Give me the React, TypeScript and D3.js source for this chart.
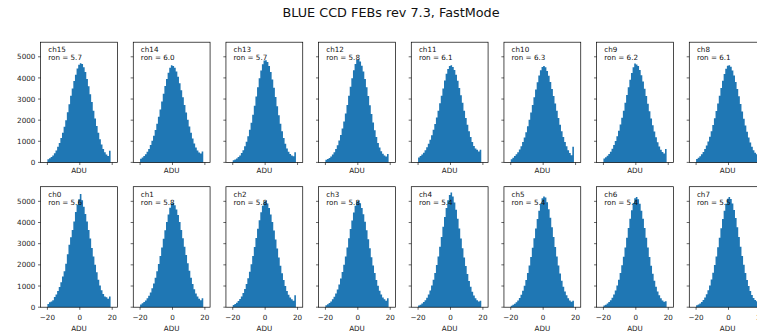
import React from "react";
import * as d3 from "d3";

const TITLE = "BLUE CCD FEBs rev 7.3, FastMode";
const BIN_START = -20; // left edge of the first bin, bins of width 1
const X_TICKS = [-20, 0, 20];
const Y_TICKS = [0, 1000, 2000, 3000, 4000, 5000];

const topChannels = ["ch15", "ch14", "ch13", "ch12", "ch11", "ch10", "ch9", "ch8"];
const topRon = ["5.7", "6.0", "5.7", "5.8", "6.1", "6.3", "6.2", "6.1"];
const bottomChannels = ["ch0", "ch1", "ch2", "ch3", "ch4", "ch5", "ch6", "ch7"];
const bottomRon = ["5.6", "5.8", "5.8", "5.8", "5.4", "5.4", "5.4", "5.5"];

const ch15 = [150, 200, 260, 330, 430, 560, 740, 920, 1150, 1400, 1690, 2000, 2380, 2750, 3150, 3500, 3850, 4150, 4450, 4620, 4700, 4660, 4500, 4280, 3950, 3600, 3230, 2860, 2450, 2080, 1720, 1400, 1100, 850, 640, 480, 370, 300, 550];
const ch14 = [170, 230, 300, 390, 500, 640, 820, 1020, 1260, 1530, 1830, 2160, 2500, 2880, 3250, 3620, 3950, 4250, 4480, 4600, 4570, 4480, 4300, 4050, 3750, 3420, 3080, 2720, 2360, 2020, 1700, 1400, 1130, 900, 700, 560, 470, 420, 520];
const ch13 = [100, 140, 190, 250, 330, 440, 580, 760, 980, 1240, 1540, 1880, 2260, 2680, 3120, 3560, 3980, 4350, 4650, 4820, 4840, 4750, 4560, 4280, 3930, 3530, 3100, 2660, 2230, 1830, 1470, 1150, 880, 660, 500, 400, 330, 290, 480];
const ch12 = [120, 160, 210, 280, 370, 480, 630, 810, 1040, 1300, 1600, 1940, 2320, 2720, 3150, 3580, 3990, 4360, 4660, 4850, 4870, 4780, 4580, 4300, 3950, 3560, 3140, 2710, 2290, 1890, 1520, 1200, 920, 700, 530, 410, 330, 280, 400];
const ch11 = [230, 300, 370, 460, 580, 720, 880, 1070, 1290, 1540, 1820, 2120, 2450, 2800, 3150, 3500, 3880, 4200, 4420, 4560, 4600, 4520, 4380, 4150, 3860, 3520, 3180, 2820, 2450, 2100, 1780, 1480, 1200, 960, 780, 660, 600, 520, 600];
const ch10 = [150, 220, 300, 380, 480, 610, 770, 960, 1180, 1430, 1710, 2020, 2360, 2720, 3080, 3450, 3800, 4110, 4360, 4520, 4560, 4500, 4330, 4100, 3810, 3480, 3140, 2790, 2440, 2100, 1780, 1480, 1200, 960, 760, 580, 440, 340, 740];
const ch9 = [180, 240, 310, 400, 510, 650, 820, 1010, 1240, 1500, 1790, 2110, 2450, 2820, 3190, 3560, 3910, 4230, 4500, 4680, 4640, 4560, 4380, 4130, 3830, 3490, 3140, 2780, 2420, 2080, 1760, 1460, 1190, 950, 750, 600, 490, 420, 630];
const ch8 = [160, 220, 290, 380, 490, 630, 800, 990, 1220, 1480, 1770, 2090, 2430, 2790, 3160, 3520, 3870, 4180, 4430, 4580, 4600, 4530, 4350, 4110, 3810, 3480, 3130, 2770, 2410, 2070, 1750, 1450, 1180, 940, 740, 580, 460, 380, 600];

const ch0 = [150, 230, 270, 330, 480, 600, 760, 950, 1180, 1450, 1700, 2050, 2500, 2950, 3300, 3650, 4050, 4500, 4850, 5100, 5350, 5050, 4750, 4400, 4050, 3650, 3250, 2800, 2400, 2000, 1650, 1300, 1020, 800, 620, 500, 470, 400, 500];
const ch1 = [130, 190, 250, 320, 420, 540, 700, 890, 1120, 1390, 1700, 2040, 2420, 2820, 3230, 3640, 4020, 4380, 4700, 4900, 4920, 4820, 4620, 4350, 4020, 3650, 3260, 2860, 2460, 2080, 1720, 1390, 1100, 850, 650, 500, 400, 330, 420];
const ch2 = [100, 150, 210, 290, 390, 510, 670, 860, 1090, 1370, 1680, 2030, 2420, 2840, 3270, 3700, 4110, 4480, 4790, 4980, 5010, 4900, 4680, 4380, 4020, 3620, 3200, 2770, 2350, 1960, 1600, 1280, 1000, 770, 590, 460, 370, 310, 560];
const ch3 = [90, 140, 200, 270, 370, 490, 650, 840, 1070, 1350, 1660, 2010, 2400, 2820, 3260, 3690, 4100, 4470, 4790, 4990, 5010, 4910, 4690, 4390, 4030, 3630, 3210, 2780, 2360, 1970, 1610, 1290, 1010, 780, 600, 460, 370, 300, 420];
const ch4 = [80, 120, 170, 240, 330, 450, 600, 790, 1020, 1300, 1620, 1990, 2400, 2850, 3320, 3800, 4260, 4680, 5050, 5300, 5420, 5230, 4950, 4600, 4180, 3720, 3250, 2790, 2350, 1940, 1570, 1240, 960, 730, 550, 420, 330, 270, 300];
const ch5 = [70, 110, 160, 230, 320, 440, 590, 780, 1010, 1290, 1610, 1970, 2370, 2810, 3260, 3720, 4160, 4560, 4900, 5150, 5230, 5180, 4960, 4630, 4230, 3780, 3310, 2840, 2390, 1970, 1590, 1250, 970, 740, 560, 420, 320, 260, 300];
const ch6 = [80, 120, 170, 240, 330, 450, 600, 790, 1020, 1300, 1620, 1980, 2380, 2820, 3280, 3740, 4180, 4580, 4920, 5150, 5210, 5100, 4880, 4560, 4180, 3740, 3280, 2820, 2370, 1960, 1580, 1250, 970, 740, 560, 420, 320, 260, 280];
const ch7 = [90, 130, 180, 250, 340, 460, 610, 800, 1030, 1310, 1630, 1990, 2390, 2830, 3280, 3730, 4160, 4550, 4880, 5120, 5200, 5110, 4900, 4590, 4210, 3780, 3320, 2860, 2420, 2000, 1620, 1290, 1000, 770, 580, 440, 340, 280, 300];

const topCounts = [ch15, ch14, ch13, ch12, ch11, ch10, ch9, ch8];
const bottomCounts = [ch0, ch1, ch2, ch3, ch4, ch5, ch6, ch7];

const W = 757;
const H = 334;
const FONT = "DejaVu Sans, sans-serif";
const BLUE = "#1f77b4";
const COL_LEFT = 40.6;
const COL_STEP = 92.67;
const AX_W = 76.8;
const ROWS = [
  { top: 42.2, bottom: 162.4 },
  { top: 186.7, bottom: 307.2 },
];
const X_DOMAIN: [number, number] = [-24.2, 23.2];

const allMax = d3.max([...topCounts, ...bottomCounts].flat()) as number;
const Y_MAX = allMax * 1.05;

function Panel({ col, row, name, ron, counts }: { col: number; row: number; name: string; ron: string; counts: number[] }) {
  const left = COL_LEFT + col * COL_STEP;
  const right = left + AX_W;
  const { top, bottom } = ROWS[row];
  const x = d3.scaleLinear().domain(X_DOMAIN).range([left, right]);
  const y = d3.scaleLinear().domain([0, Y_MAX]).range([bottom, top]);
  const showX = row === 1;
  const showY = col === 0;
  const steps: [number, number][] = counts.map((c, i) => [BIN_START + i, c]);
  steps.push([BIN_START + counts.length, counts[counts.length - 1]]);
  const area = d3
    .area<[number, number]>()
    .x((d) => x(d[0]))
    .y0(y(0))
    .y1((d) => y(d[1]))
    .curve(d3.curveStepAfter);
  return (
    <g>
      <path d={area(steps) || ""} fill={BLUE} />
      <rect x={left} y={top} width={AX_W} height={bottom - top} fill="none" stroke="#000" strokeWidth={0.7} />
      {X_TICKS.map((t) => (
        <g key={"x" + t}>
          <line x1={x(t)} x2={x(t)} y1={bottom} y2={bottom + 2.6} stroke="#000" strokeWidth={0.6} />
          {showX && (
            <text x={x(t)} y={bottom + 12.3} textAnchor="middle" fontSize={7.2} fontFamily={FONT} fill="#222">
              {t < 0 ? "\u2212" + Math.abs(t) : String(t)}
            </text>
          )}
        </g>
      ))}
      {Y_TICKS.map((t) => (
        <g key={"y" + t}>
          <line x1={left - 2.6} x2={left} y1={y(t)} y2={y(t)} stroke="#000" strokeWidth={0.6} />
          {showY && (
            <text x={left - 5.2} y={y(t)} dy="0.36em" textAnchor="end" fontSize={7.2} fontFamily={FONT} fill="#222">
              {t}
            </text>
          )}
        </g>
      ))}
      <text x={(left + right) / 2} y={showX ? bottom + 24 : bottom + 10.5} textAnchor="middle" fontSize={7.2} fontFamily={FONT} fill="#222">
        ADU
      </text>
      <text x={left + 7.6} y={top + 9.9} fontSize={7.2} fontFamily={FONT} fill="#111">
        {name}
      </text>
      <text x={left + 7.6} y={top + 18} fontSize={7.2} fontFamily={FONT} fill="#111">
        {"ron = " + ron}
      </text>
    </g>
  );
}

export default function App() {
  return (
    <svg width={W} height={H} style={{ position: "absolute", left: 0, top: 0, background: "#fff" }}>
      <rect x={0} y={0} width={W} height={H} fill="#fff" />
      <text x={391} y={17} textAnchor="middle" fontSize={12.8} fontFamily={FONT} fill="#111">
        {TITLE}
      </text>
      {topChannels.map((n, i) => (
        <Panel key={n} col={i} row={0} name={n} ron={topRon[i]} counts={topCounts[i]} />
      ))}
      {bottomChannels.map((n, i) => (
        <Panel key={n} col={i} row={1} name={n} ron={bottomRon[i]} counts={bottomCounts[i]} />
      ))}
    </svg>
  );
}
